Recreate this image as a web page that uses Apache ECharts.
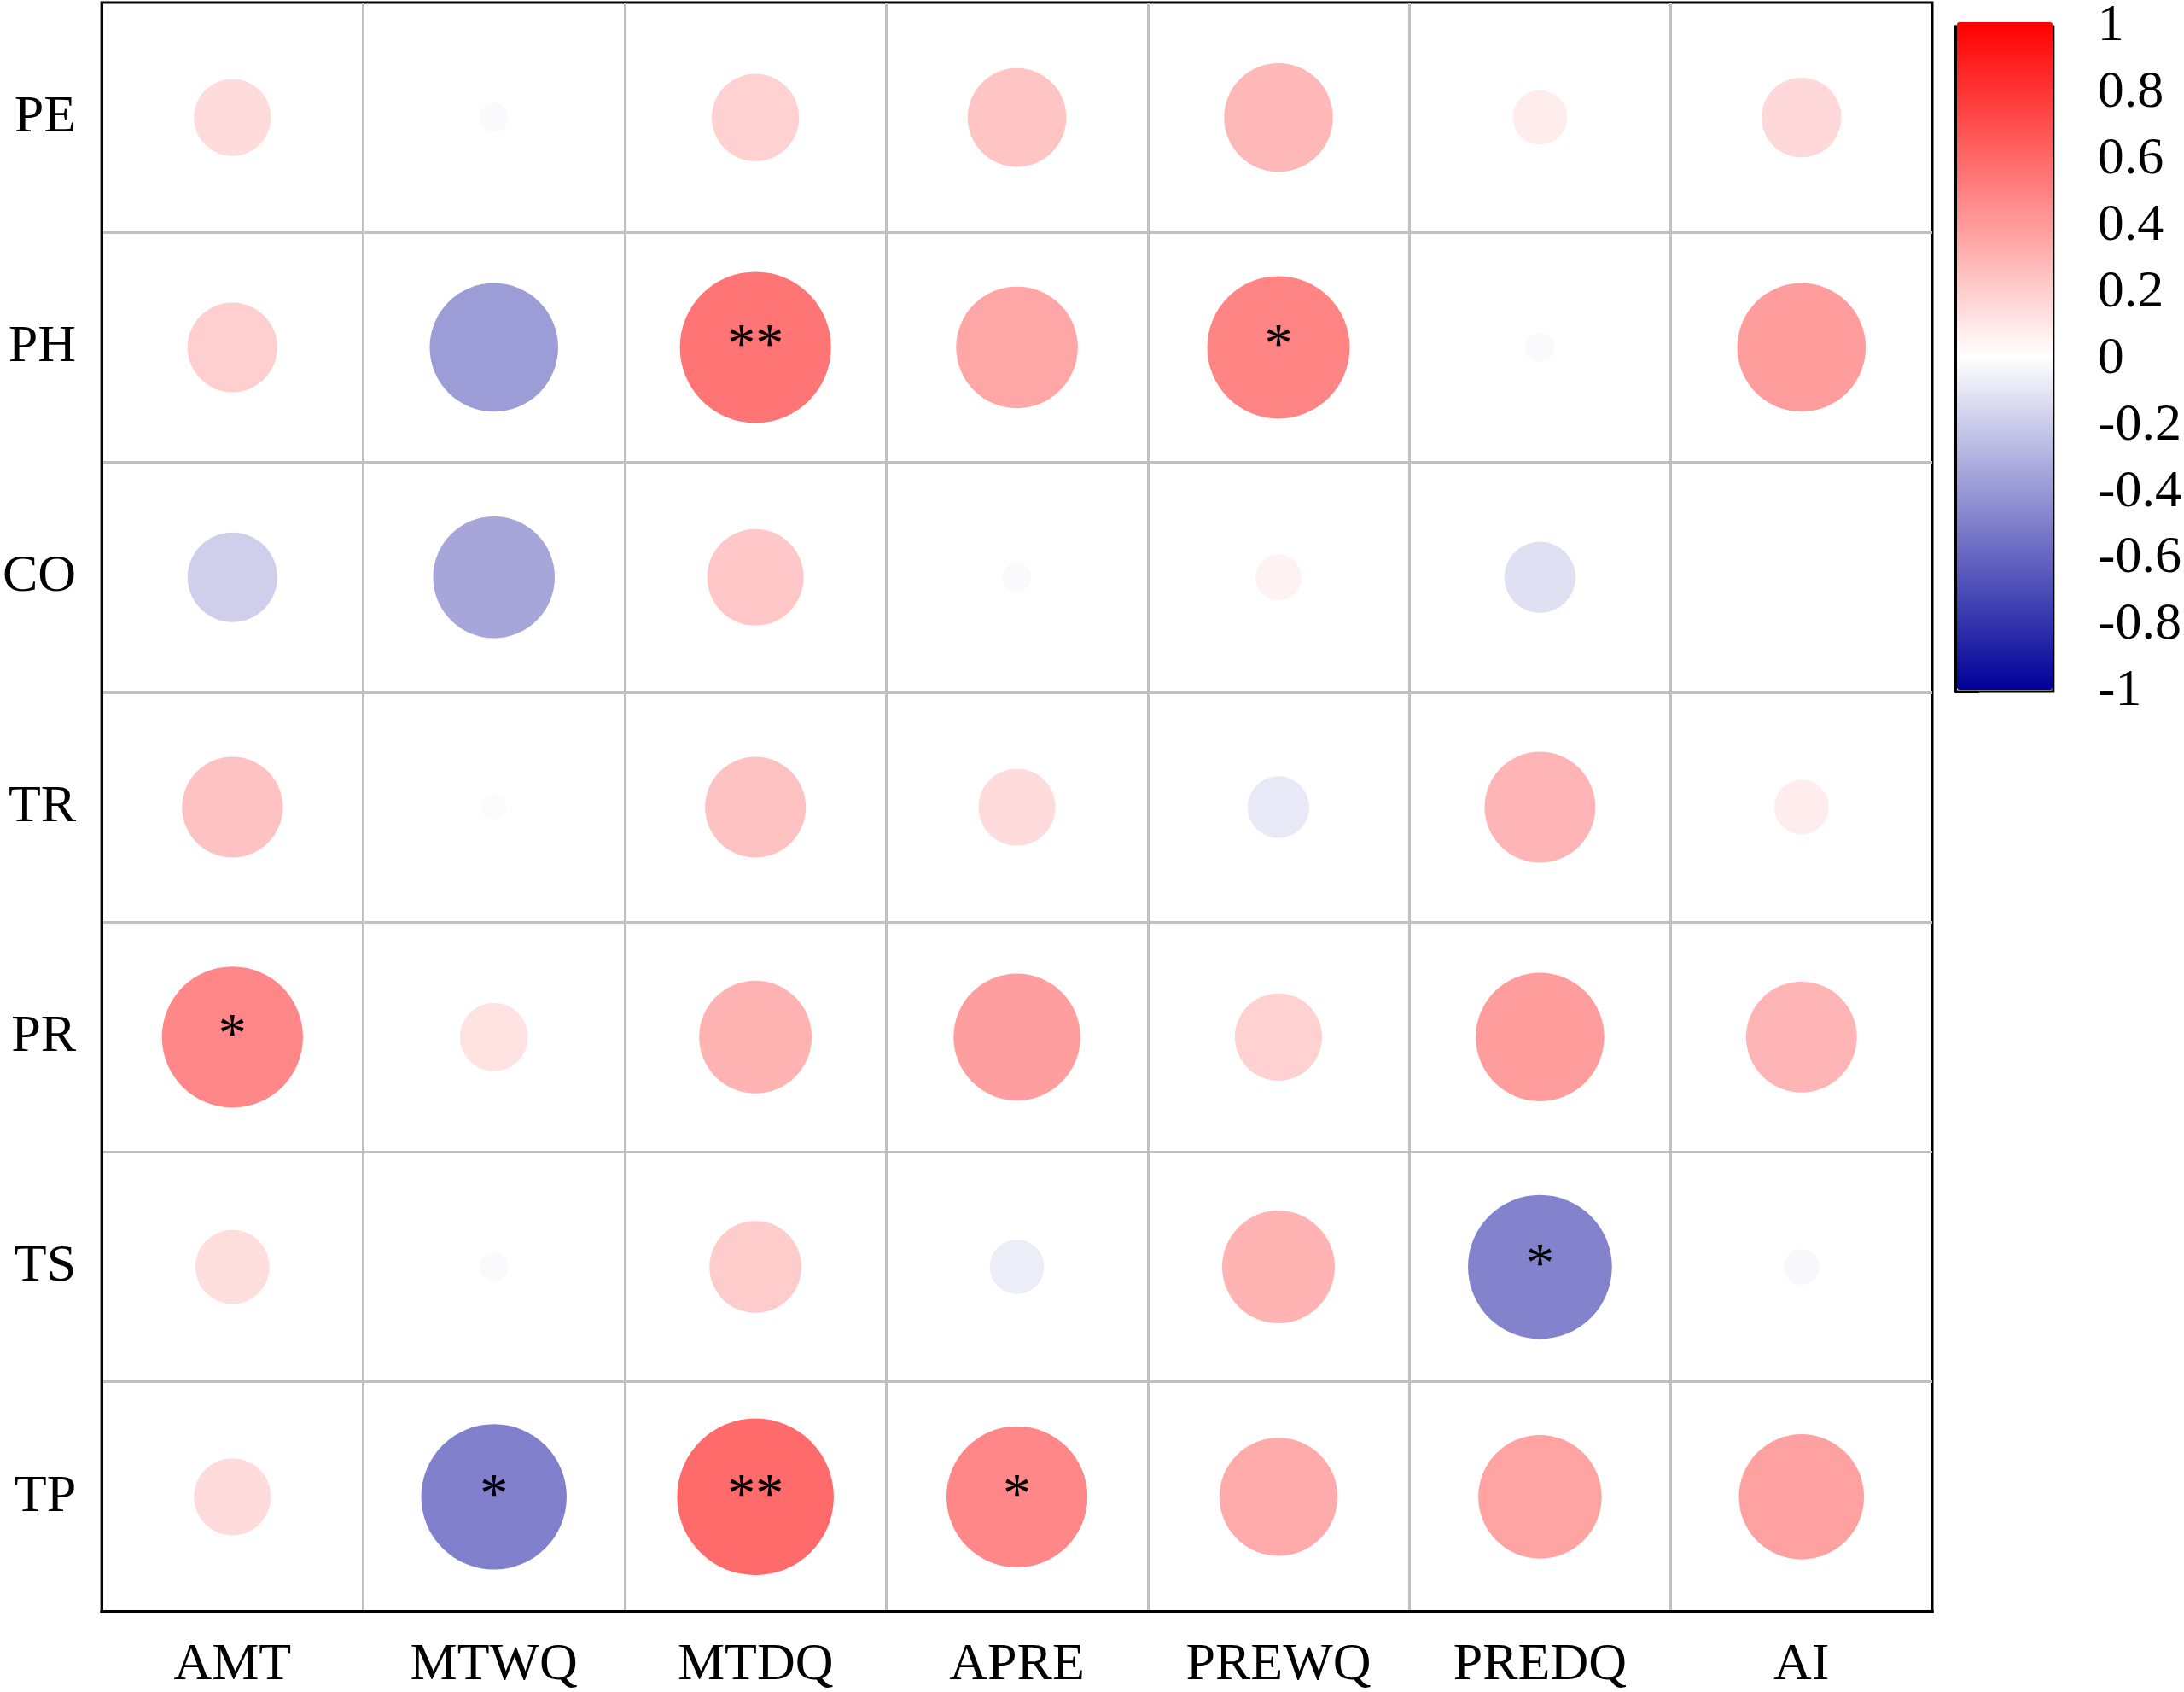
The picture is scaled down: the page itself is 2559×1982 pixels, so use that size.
<!DOCTYPE html>
<html>
<head>
<meta charset="utf-8">
<script src="https://cdn.jsdelivr.net/npm/echarts@6/dist/echarts.min.js"></script>
<style>
  html, body { margin: 0; padding: 0; background: #ffffff; }
  #chart { width: 2559px; height: 1982px; }
</style>
</head>
<body>
<div id="chart"></div>
<script>
var xCats = ["AMT", "MTWQ", "MTDQ", "APRE", "PREWQ", "PREDQ", "AI"];
var yCats = ["PE", "PH", "CO", "TR", "PR", "TS", "TP"];

// correlation coefficient, one row per y category
var rPE = [0.14, -0.02, 0.18, 0.23, 0.28, 0.07, 0.15];
var rPH = [0.19, -0.39, 0.54, 0.35, 0.48, -0.02, 0.39];
var rCO = [-0.19, -0.35, 0.22, -0.02, 0.05, -0.12, 0.0];
var rTR = [0.24, -0.015, 0.24, 0.14, -0.09, 0.29, 0.07];
var rPR = [0.47, 0.11, 0.3, 0.38, 0.18, 0.39, 0.29];
var rTS = [0.13, -0.02, 0.2, -0.07, 0.3, -0.49, -0.03];
var rTP = [0.14, -0.5, 0.58, 0.47, 0.33, 0.36, 0.37];

// significance marks
var sPE = ["", "", "", "", "", "", ""];
var sPH = ["", "", "**", "", "*", "", ""];
var sCO = ["", "", "", "", "", "", ""];
var sTR = ["", "", "", "", "", "", ""];
var sPR = ["*", "", "", "", "", "", ""];
var sTS = ["", "", "", "", "", "*", ""];
var sTP = ["", "*", "**", "*", "", "", ""];

var rRows = [rPE, rPH, rCO, rTR, rPR, rTS, rTP];
var sRows = [sPE, sPH, sCO, sTR, sPR, sTS, sTP];

var data = [];
for (var i = 0; i < yCats.length; i++) {
  for (var j = 0; j < xCats.length; j++) {
    data.push([j, i, rRows[i][j], sRows[i][j]]);
  }
}

var font = "Liberation Serif";
var chart = echarts.init(document.getElementById("chart"), null, {
  width: 2559,
  height: 1982
});

var option = {
  backgroundColor: "#ffffff",
  animation: false,
  grid: [
    {
      left: 117,
      right: 295,
      top: 3,
      bottom: 94,
      show: true,
      borderColor: "#000000",
      borderWidth: 3
    },
    {
      left: 2291,
      top: 24,
      width: 116,
      height: 786,
      show: true,
      borderColor: "#000000",
      borderWidth: 3
    }
  ],
  xAxis: [
    {
      type: "category",
      data: xCats,
      boundaryGap: true,
      axisLine: { show: true, lineStyle: { color: "#000000", width: 4 } },
      axisTick: { show: false },
      splitLine: {
        show: true,
        showMinLine: false,
        showMaxLine: false,
        lineStyle: { color: "#c0c0c0", width: 3 }
      },
      axisLabel: {
        color: "#000000",
        fontFamily: font,
        fontSize: 62,
        margin: 32
      }
    },
    {
      type: "value",
      gridIndex: 1,
      show: false
    }
  ],
  yAxis: [
    {
      type: "category",
      data: yCats,
      inverse: true,
      boundaryGap: true,
      axisLine: { show: true, lineStyle: { color: "#000000", width: 3 } },
      axisTick: { show: false },
      splitLine: {
        show: true,
        showMinLine: false,
        showMaxLine: false,
        lineStyle: { color: "#c0c0c0", width: 3 }
      },
      axisLabel: {
        color: "#000000",
        fontFamily: font,
        fontSize: 62,
        margin: 30
      }
    },
    {
      type: "value",
      gridIndex: 1,
      position: "right",
      min: -1,
      max: 1,
      interval: 0.2,
      axisLine: { show: true, lineStyle: { color: "#000000", width: 3 } },
      axisTick: {
        show: true,
        length: 28,
        lineStyle: { color: "#000000", width: 3 }
      },
      splitLine: { show: false },
      axisLabel: {
        color: "#000000",
        fontFamily: font,
        fontSize: 62,
        margin: 52,
        formatter: function (v) {
          return String(Math.round(v * 10) / 10);
        }
      }
    }
  ],
  visualMap: {
    type: "continuous",
    min: -1,
    max: 1,
    dimension: 2,
    seriesIndex: 0,
    calculable: false,
    left: 2293,
    top: 26,
    itemWidth: 112,
    itemHeight: 782,
    padding: 0,
    text: null,
    showLabel: false,
    inRange: { color: ["#000099", "#ffffff", "#ff0000"] }
  },
  series: [
    {
      type: "scatter",
      data: data,
      symbol: "circle",
      symbolSize: function (val) {
        return 241 * Math.sqrt(Math.abs(val[2]));
      },
      itemStyle: { opacity: 1 },
      label: {
        show: true,
        position: "inside",
        color: "#000000",
        fontFamily: font,
        fontSize: 66,
        formatter: function (p) {
          return p.value[3];
        }
      },
      emphasis: { disabled: true }
    }
  ]
};
chart.setOption(option);
</script>
</body>
</html>
